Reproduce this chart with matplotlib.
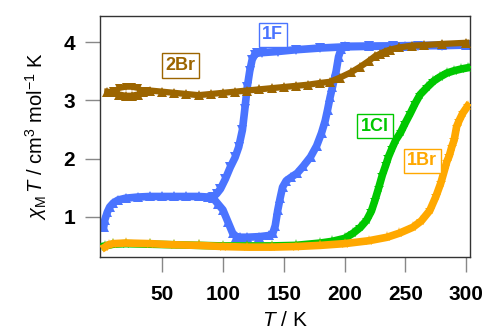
import matplotlib
matplotlib.use("Agg")
import matplotlib.pyplot as plt

plt.rcParams['font.family'] = ['Liberation Sans', 'DejaVu Sans']
plt.rcParams['mathtext.fontset'] = 'custom'
plt.rcParams['mathtext.rm'] = 'Liberation Sans'
plt.rcParams['mathtext.it'] = 'Liberation Sans:italic'
plt.rcParams['mathtext.bf'] = 'Liberation Sans:bold'

# ---------------- data (T in K, chiM*T in cm3 mol-1 K) ----------------
f_heat_T = [2, 3, 5, 7, 10, 14, 20, 30, 40, 50, 60, 70, 80, 88, 92, 96, 100, 104, 108,
            111, 114, 120, 130, 138, 141, 143, 145, 147, 149, 152, 156, 161, 166, 172,
            177, 181, 184, 186, 188, 190, 193, 195, 197, 200, 220, 250, 280, 300]
f_heat_v = [0.82, 0.95, 1.08, 1.17, 1.24, 1.29, 1.32, 1.34, 1.35, 1.35, 1.35, 1.35, 1.35,
            1.34, 1.32, 1.22, 1.12, 0.92, 0.72, 0.66, 0.65, 0.65, 0.66, 0.68, 0.72, 0.85,
            1.11, 1.32, 1.51, 1.62, 1.68, 1.75, 1.87, 2.03, 2.22, 2.44, 2.65, 2.84, 3.05,
            3.23, 3.50, 3.75, 3.88, 3.93, 3.93, 3.94, 3.95, 3.95]
f_cool_T = [300, 280, 260, 240, 220, 200, 180, 160, 145, 132, 128, 126, 124, 122, 120,
            118, 116, 113, 110, 106, 102, 98, 95, 92]
f_cool_v = [3.95, 3.94, 3.94, 3.93, 3.93, 3.92, 3.90, 3.87, 3.84, 3.82, 3.81, 3.78, 3.70,
            3.50, 3.23, 2.85, 2.49, 2.20, 2.02, 1.85, 1.65, 1.48, 1.40, 1.34]

br2_T = [5, 10, 15, 20, 25, 30, 34, 40, 50, 60, 70, 80, 90, 100, 110, 120, 130, 140, 150,
         160, 170, 180, 188, 196, 205, 213, 220, 225, 229, 233, 237, 245, 255, 265, 280, 300]
br2_v = [3.15, 3.14, 3.10, 3.08, 3.08, 3.10, 3.15, 3.17, 3.15, 3.13, 3.11, 3.09, 3.11, 3.13,
         3.15, 3.17, 3.19, 3.21, 3.23, 3.25, 3.27, 3.30, 3.32, 3.39, 3.48, 3.58, 3.68, 3.76,
         3.80, 3.84, 3.87, 3.91, 3.94, 3.95, 3.97, 3.99]
br2_loop_T = [10, 15, 20, 25, 30, 34, 38]
br2_loop_v = [3.16, 3.21, 3.23, 3.23, 3.21, 3.17, 3.16]

cl1_T = [3, 10, 20, 40, 60, 80, 100, 120, 140, 160, 180, 190, 200, 207, 213, 218, 222, 225,
         228, 231, 234, 236, 239, 242, 246, 250, 254, 258, 262, 268, 273, 278, 284, 290,
         296, 301]
cl1_v = [0.50, 0.53, 0.54, 0.53, 0.52, 0.51, 0.50, 0.50, 0.50, 0.51, 0.55, 0.58, 0.63, 0.72,
         0.82, 0.94, 1.10, 1.29, 1.50, 1.72, 1.90, 2.03, 2.18, 2.32, 2.45, 2.62, 2.78, 2.95,
         3.10, 3.23, 3.33, 3.40, 3.47, 3.51, 3.54, 3.56]

br1_T = [3, 6, 10, 20, 40, 60, 80, 100, 120, 140, 160, 180, 200, 220, 235, 245, 256, 263,
         270, 275, 279, 282, 284, 286, 288, 290, 292, 294, 297, 301]
br1_v = [0.48, 0.52, 0.54, 0.55, 0.54, 0.52, 0.51, 0.49, 0.48, 0.48, 0.49, 0.51, 0.54, 0.59,
         0.65, 0.72, 0.82, 0.93, 1.11, 1.35, 1.58, 1.80, 1.95, 2.05, 2.20, 2.32, 2.55, 2.65,
         2.78, 2.90]

labels = ["1F", "2Br", "1Cl", "1Br"]
label_pos = [(141, 4.13), (65.4, 3.60), (225, 2.56), (263.8, 1.96)]
x_ticks = [50, 100, 150, 200, 250, 300]
y_ticks = [1, 2, 3, 4]

c_blue = '#4a74ff'
c_brown = '#9c6500'
c_green = '#00c800'
c_orange = '#ffa800'
colors = [c_blue, c_brown, c_green, c_orange]

fig = plt.figure(figsize=(4.87, 3.29), dpi=100)
ax = fig.add_axes([0.2053, 0.2188, 0.9651 - 0.2053, 0.9514 - 0.2188])

lw = 5.5
ax.plot(f_heat_T, f_heat_v, '-', color=c_blue, lw=lw, marker='^', ms=7, mew=0, zorder=2)
ax.plot(f_cool_T, f_cool_v, '-', color=c_blue, lw=lw, marker='v', ms=7, mew=0, zorder=2)
ax.plot(br2_T, br2_v, '-', color=c_brown, lw=4.5, marker='^', ms=6.5, mew=0, zorder=3)
ax.plot(br2_loop_T, br2_loop_v, '-', color=c_brown, lw=4, marker='v', ms=6, mew=0, zorder=3)
ax.plot(cl1_T, cl1_v, '-', color=c_green, lw=lw, marker='*', ms=8, mew=0, zorder=4)
ax.plot(br1_T, br1_v, '-', color=c_orange, lw=lw, marker='*', ms=8, mew=0, zorder=5)

for lab, (tx, ty), col in zip(labels, label_pos, colors):
    ax.text(tx, ty, lab, color=col, fontsize=13, fontweight='bold', ha='center',
            va='center', zorder=6,
            bbox=dict(boxstyle='square,pad=0.2', fc='white', ec=col, lw=1, alpha=1))

ax.set_xlim(-1, 303)
ax.set_ylim(0.31, 4.45)
ax.set_xticks(x_ticks)
ax.set_yticks(y_ticks)
ax.set_xticklabels([str(t) for t in x_ticks], fontsize=15, fontweight='bold')
ax.set_yticklabels([str(t) for t in y_ticks], fontsize=15, fontweight='bold')
ax.tick_params(axis='both', direction='out', length=11, width=1, color='#888888')
ax.tick_params(axis='x', pad=9)
ax.tick_params(axis='y', pad=7)
for s in ax.spines.values():
    s.set_color('#333333')
    s.set_linewidth(1)

ax.set_xlabel(r'$T$ / K', fontsize=15, labelpad=5)
ax.set_ylabel(r'$\chi_{\rm M}\,\mathbf{\mathit{T}}$ / cm$^3$ mol$^{-1}$ K', fontsize=14.5, labelpad=10)

fig.savefig('out.png', dpi=100)
